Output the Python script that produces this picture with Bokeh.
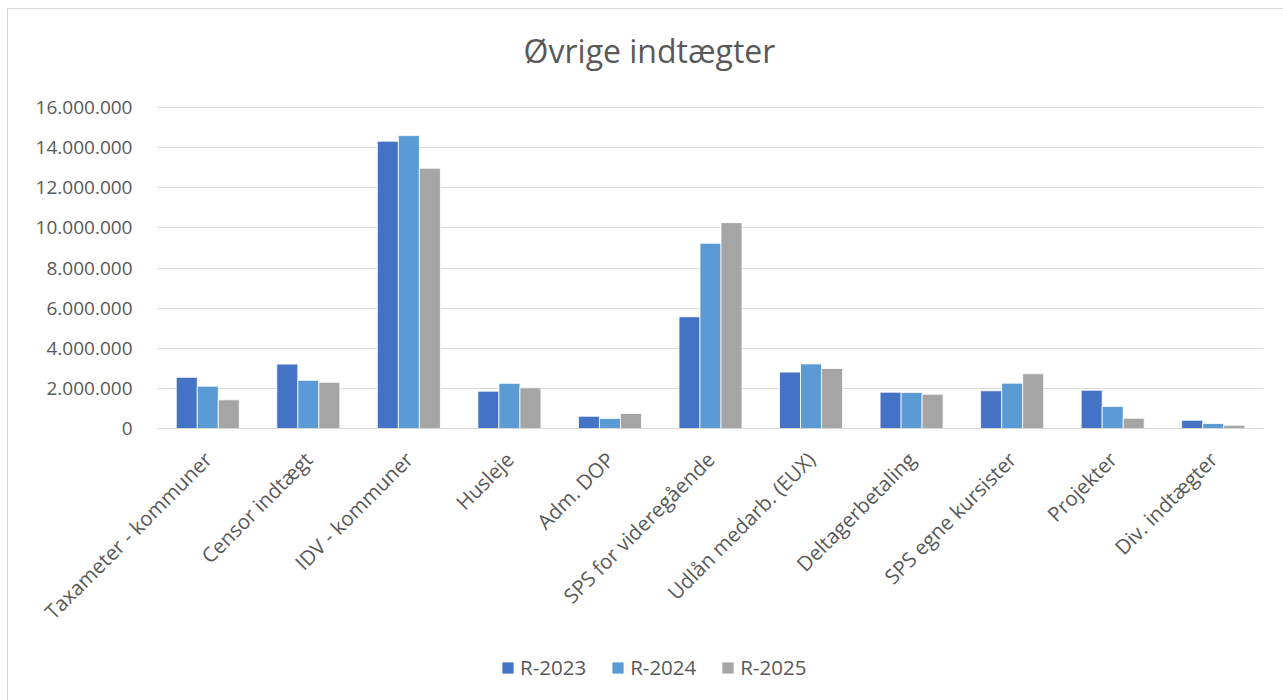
import math
from bokeh.plotting import figure
from bokeh.layouts import column
from bokeh.models import (ColumnDataSource, FactorRange, FixedTicker, CustomJSTickFormatter,
                          Legend, LegendItem, Range1d, Label)
from bokeh.transform import dodge
from bokeh.embed import file_html
from bokeh.resources import INLINE

categories = ["Taxameter - kommuner", "Censor indtægt", "IDV - kommuner", "Husleje",
              "Adm. DOP", "SPS for videregående", "Udlån medarb. (EUX)", "Deltagerbetaling",
              "SPS egne kursister", "Projekter", "Div. indtægter"]
r2023 = [2550000, 3210000, 14320000, 1860000, 610000, 5570000, 2810000, 1810000, 1880000, 1910000, 410000]
r2024 = [2110000, 2400000, 14600000, 2250000, 500000, 9230000, 3220000, 1800000, 2260000, 1100000, 250000]
r2025 = [1430000, 2300000, 12970000, 2030000, 750000, 10260000, 2990000, 1710000, 2730000, 510000, 160000]
series_names = ["R-2023", "R-2024", "R-2025"]
y_ticks = [0, 2000000, 4000000, 6000000, 8000000, 10000000, 12000000, 14000000, 16000000]
title_text = "Øvrige indtægter"

colors = ["#4472C4", "#5B9BD5", "#A5A5A5"]
FONT = "Open Sans"
TXT = "#595959"
GRID = "#d9d9d9"

# layout in pixels
W, H_MAIN, H_LEG = 1283, 640, 60
FRAME_TOP, GRID_TOP, ZERO_Y = 10, 107, 428
y_max = y_ticks[-1]
y_end = y_max + y_max * (GRID_TOP - FRAME_TOP) / (ZERO_Y - GRID_TOP)

cols = ["r2023", "r2024", "r2025"]
src = ColumnDataSource(dict(cat=categories, r2023=r2023, r2024=r2024, r2025=r2025))

p = figure(x_range=FactorRange(*categories, range_padding=0), y_range=Range1d(0, y_end),
           width=W, height=H_MAIN, output_backend="svg", toolbar_location=None,
           min_border_left=157, min_border_right=20, min_border_top=FRAME_TOP,
           min_border_bottom=H_MAIN - ZERO_Y)
p.border_fill_alpha = 0
p.background_fill_alpha = 0
p.styles = {
    "background": (f"linear-gradient({GRID},{GRID}) 7px 8px / 1px 100% no-repeat, "
                   f"linear-gradient({GRID},{GRID}) 7px 8px / 100% 1px no-repeat, white"),
}

bw = 0.209
for i, col in enumerate(cols):
    p.vbar(x=dodge("cat", (i - 1) * bw, range=p.x_range), top=col, width=bw,
           source=src, fill_color=colors[i], line_color="white", line_width=0.8)

p.add_layout(Label(x=492, y=ZERO_Y - 50, x_units="screen", y_units="screen",
                   text=title_text, text_align="center", text_baseline="alphabetic",
                   text_font=FONT, text_font_size="32px", text_color=TXT))

p.outline_line_color = None
p.xgrid.grid_line_color = None
p.ygrid.grid_line_color = GRID
p.ygrid.grid_line_width = 1.2

p.yaxis.ticker = FixedTicker(ticks=y_ticks)
p.yaxis.formatter = CustomJSTickFormatter(code="""
return Math.round(tick).toString().replace(/\\B(?=(\\d{3})+(?!\\d))/g, '.');
""")
p.yaxis.axis_line_color = None
p.yaxis.major_tick_line_color = None
p.yaxis.minor_tick_line_color = None
p.yaxis.major_label_standoff = 19
p.yaxis.major_label_text_font = FONT
p.yaxis.major_label_text_font_size = "19px"
p.yaxis.major_label_text_color = TXT

p.xaxis.axis_line_color = GRID
p.xaxis.axis_line_width = 1.2
p.xaxis.major_tick_line_color = None
p.xaxis.minor_tick_line_color = None
p.xaxis.major_label_orientation = math.pi / 4
p.xaxis.major_label_standoff = 21
p.xaxis.major_label_text_font = FONT
p.xaxis.major_label_text_font_size = "20.5px"
p.xaxis.major_label_text_color = TXT

# legend strip below the chart; its renderers share the data but are hidden
lg = figure(width=W, height=H_LEG, output_backend="svg", toolbar_location=None,
            x_range=FactorRange(*categories), y_range=Range1d(0, 1), min_border=0)
lg.border_fill_alpha = 0
lg.background_fill_alpha = 0
lg.outline_line_color = None
lg.axis.visible = False
lg.grid.visible = False
lg.styles = {"background": f"linear-gradient({GRID},{GRID}) 7px 0px / 1px 100% no-repeat, white"}
items = []
for i, (col, name) in enumerate(zip(cols, series_names)):
    r = lg.vbar(x="cat", top=col, width=0.2, source=src, fill_color=colors[i],
                line_color="white", line_width=0.8, visible=False)
    items.append(LegendItem(label=name, renderers=[r]))
legend = Legend(items=items, orientation="horizontal", location=(343, 19),
                glyph_width=15, glyph_height=15, label_standoff=5, spacing=24,
                padding=0, margin=0, border_line_color=None, background_fill_alpha=0,
                inactive_fill_alpha=0,
                label_text_font=FONT, label_text_font_size="20.5px", label_text_color=TXT)
lg.add_layout(legend, "center")

layout = column(p, lg, spacing=0)
open("out.html", "w").write(file_html(layout, INLINE))
